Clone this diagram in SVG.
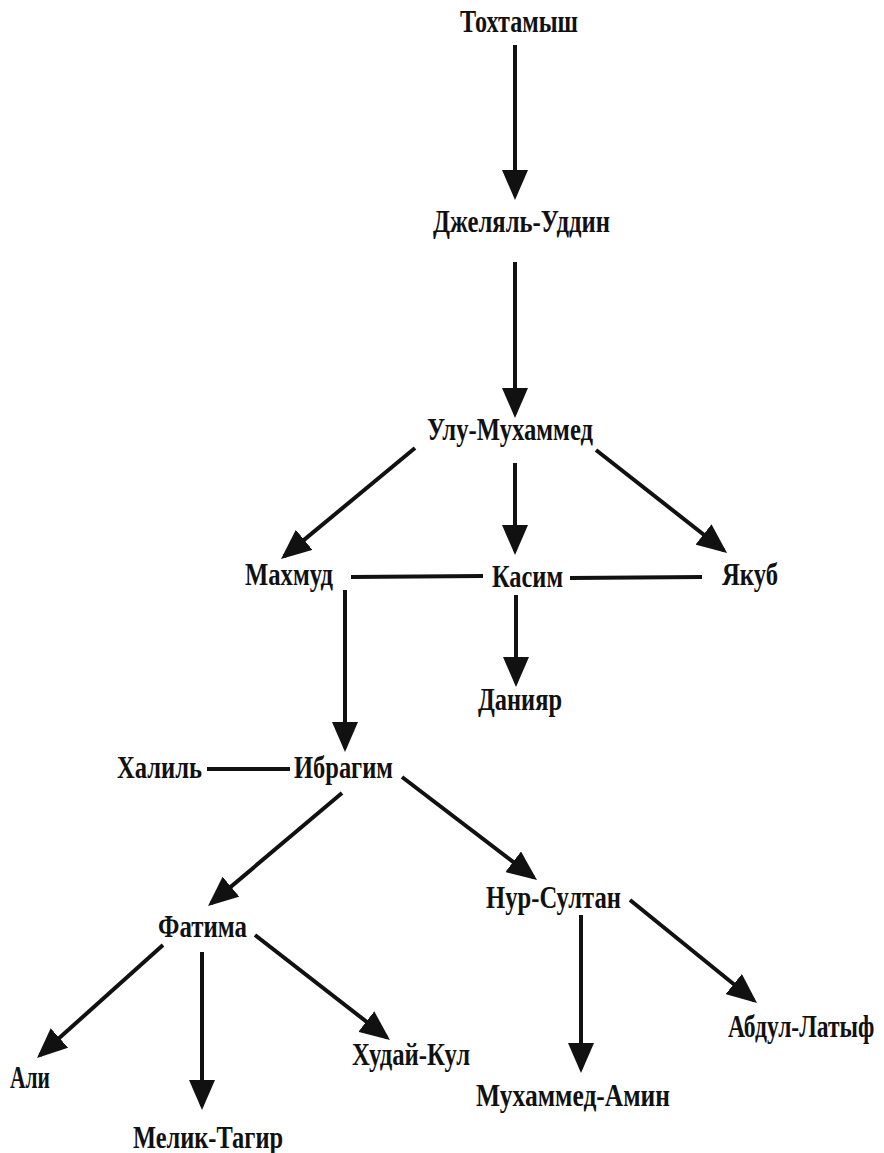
<svg xmlns="http://www.w3.org/2000/svg" width="884" height="1153" viewBox="0 0 884 1153">
<style>
.lbl{font-family:"Liberation Serif","Times New Roman",serif;font-weight:bold;font-size:32px;fill:#111}
.c line{stroke:#111;stroke-width:4}
.a{marker-end:url(#ah)}
</style>
<defs>
<marker id="ah" markerUnits="userSpaceOnUse" markerWidth="30" markerHeight="26" refX="26" refY="13" orient="auto" viewBox="0 0 30 26">
<path d="M0,0 L30,13 L0,26 z" fill="#111"/>
</marker>
</defs>
<rect width="884" height="1153" fill="#fff"/>
<g class="c" id="connectors">
<line class="a" x1="515" y1="45" x2="515" y2="196"/>
<line class="a" x1="515" y1="262" x2="515" y2="414"/>
<line class="a" x1="415" y1="448" x2="284.1" y2="556.4"/>
<line class="a" x1="515" y1="463" x2="515" y2="551"/>
<line class="a" x1="596" y1="450" x2="723.9" y2="550.5"/>
<line x1="351" y1="577" x2="483" y2="576"/>
<line x1="570" y1="578" x2="702" y2="577"/>
<line class="a" x1="345" y1="590" x2="345" y2="748"/>
<line class="a" x1="516" y1="595" x2="516" y2="683"/>
<line x1="207" y1="769" x2="290" y2="769"/>
<line class="a" x1="342" y1="793" x2="211.1" y2="903.4"/>
<line class="a" x1="402" y1="777" x2="533.8" y2="877.6"/>
<line class="a" x1="163" y1="945" x2="40" y2="1055.3"/>
<line class="a" x1="202" y1="952" x2="202" y2="1106"/>
<line class="a" x1="255" y1="935" x2="386.8" y2="1037.5"/>
<line class="a" x1="581" y1="915" x2="581" y2="1069"/>
<line class="a" x1="630" y1="900" x2="753.9" y2="1000.5"/>
</g>
<g id="n-tokhtamysh"><text class="lbl" x="460" y="32" textLength="118" lengthAdjust="spacingAndGlyphs">Тохтамыш</text></g>
<g id="n-dzhelal"><text class="lbl" x="433" y="232" textLength="177" lengthAdjust="spacingAndGlyphs">Джеляль-Уддин</text></g>
<g id="n-ulu"><text class="lbl" x="427" y="440" textLength="166" lengthAdjust="spacingAndGlyphs">Улу-Мухаммед</text></g>
<g id="n-makhmud"><text class="lbl" x="245" y="585" textLength="88" lengthAdjust="spacingAndGlyphs">Махмуд</text></g>
<g id="n-kasim"><text class="lbl" x="492" y="587" textLength="71" lengthAdjust="spacingAndGlyphs">Касим</text></g>
<g id="n-yakub"><text class="lbl" x="722" y="585" textLength="56" lengthAdjust="spacingAndGlyphs">Якуб</text></g>
<g id="n-daniyar"><text class="lbl" x="478" y="710" textLength="84" lengthAdjust="spacingAndGlyphs">Данияр</text></g>
<g id="n-khalil"><text class="lbl" x="117" y="778" textLength="85" lengthAdjust="spacingAndGlyphs">Халиль</text></g>
<g id="n-ibragim"><text class="lbl" x="294" y="778" textLength="99" lengthAdjust="spacingAndGlyphs">Ибрагим</text></g>
<g id="n-nursultan"><text class="lbl" x="486" y="908" textLength="135" lengthAdjust="spacingAndGlyphs">Нур-Султан</text></g>
<g id="n-fatima"><text class="lbl" x="158" y="937" textLength="89" lengthAdjust="spacingAndGlyphs">Фатима</text></g>
<g id="n-ali"><text class="lbl" x="10" y="1088" textLength="40" lengthAdjust="spacingAndGlyphs">Али</text></g>
<g id="n-melik"><text class="lbl" x="133" y="1148" textLength="150" lengthAdjust="spacingAndGlyphs">Мелик-Тагир</text></g>
<g id="n-khudai"><text class="lbl" x="352" y="1065" textLength="118" lengthAdjust="spacingAndGlyphs">Худай-Кул</text></g>
<g id="n-mamin"><text class="lbl" x="476" y="1106" textLength="194" lengthAdjust="spacingAndGlyphs">Мухаммед-Амин</text></g>
<g id="n-abdul"><text class="lbl" transform="translate(728,1037) scale(0.75,1)" x="0" y="0" textLength="195" lengthAdjust="spacingAndGlyphs">Абдул-Латыф</text></g>
</svg>
